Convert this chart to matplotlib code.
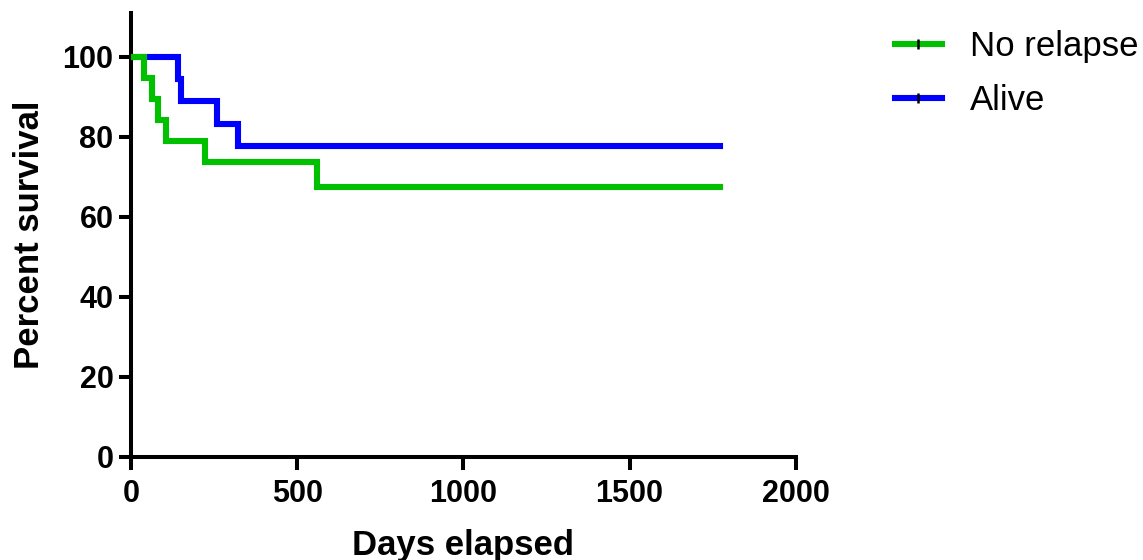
import matplotlib
matplotlib.use("Agg")
import matplotlib.pyplot as plt
from matplotlib.lines import Line2D

plt.rcParams["font.family"] = ["Liberation Sans", "DejaVu Sans"]

# Kaplan-Meier step data
relapse_days = [0, 38, 61, 81, 104, 221, 558, 1772]
relapse_surv = [100, 94.7, 89.5, 84.2, 78.9, 73.7, 67.4, 67.4]
alive_days = [0, 141, 149, 257, 322, 1772]
alive_surv = [100, 94.4, 88.9, 83.3, 77.8, 77.8]

series_labels = ["No relapse", "Alive"]
series_colors = ["#00C000", "#0000FF"]
x_ticks = [0, 500, 1000, 1500, 2000]
y_ticks = [0, 20, 40, 60, 80, 100]

fig = plt.figure(figsize=(11.43, 5.6), dpi=100)
ax = fig.add_axes([0.115, 0.184, 0.581, 0.793])

lw = 4.4
ax.step(relapse_days, relapse_surv, where="post", color=series_colors[0], lw=lw,
        solid_joinstyle="miter", zorder=3)
ax.step(alive_days, alive_surv, where="post", color=series_colors[1], lw=lw,
        solid_joinstyle="miter", zorder=2)

ax.set_xlim(0, 2000)
ax.set_ylim(0, 111)
ax.set_xticks(x_ticks)
ax.set_yticks(y_ticks)

for side in ("top", "right"):
    ax.spines[side].set_visible(False)
for side in ("left", "bottom"):
    ax.spines[side].set_linewidth(2.9)
ax.tick_params(axis="both", direction="out", length=9, width=2.9, labelsize=22)
ax.tick_params(axis="y", pad=4)
ax.tick_params(axis="x", pad=7)
for lab in ax.get_xticklabels() + ax.get_yticklabels():
    lab.set_fontweight("bold")

ax.set_xlabel("Days elapsed", fontsize=25, fontweight="bold", labelpad=14)
ax.set_ylabel("Percent survival", fontsize=25, fontweight="bold", labelpad=12)

handles = [
    Line2D([0], [0], color=c, lw=lw, marker="|", markersize=7,
           markeredgecolor="black", markeredgewidth=1.8)
    for c in series_colors
]
fig.legend(handles, series_labels, loc="upper left",
           bbox_to_anchor=(895 / 1143, 1 - 30 / 560), frameon=False,
           fontsize=25, handlelength=1.35, handletextpad=0.8,
           labelspacing=0.6, borderpad=0, borderaxespad=0, markerfirst=True)

fig.savefig("out.png", dpi=100)
